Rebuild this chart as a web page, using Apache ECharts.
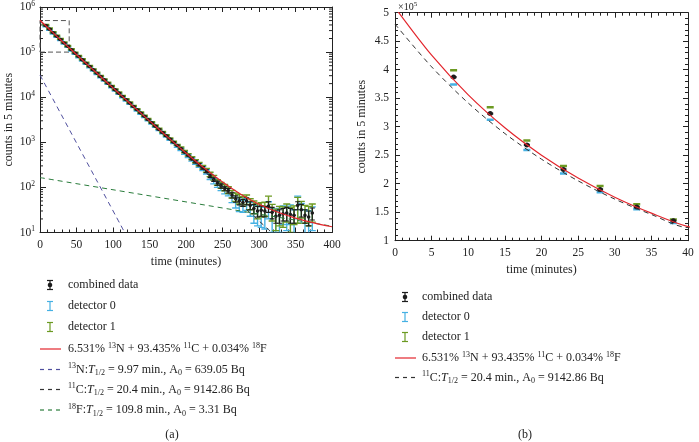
<!DOCTYPE html>
<html>
<head>
<meta charset="utf-8">
<script src="https://cdn.jsdelivr.net/npm/echarts@6/dist/echarts.min.js"></script>
<style>
  html, body { margin: 0; padding: 0; background: #fff; }
  #chart { width: 699px; height: 442px; }
</style>
</head>
<body>
<div id="chart"></div>
<script>
// ---------- data ----------
const times = [8,13,18,23,28,33,38,43,48,53,58,63,68,73,78,83,88,93,98,103,
  108,113,118,123,128,133,138,143,148,153,158,163,168,173,178,183,188,193,198,203,
  208,213,218,223,228,233,238,243,248,253,258,263,268,273,278,283,288,293,298,303,
  308,313,318,323,328,333,338,343,348,353,358,363,368,373];

const combined = [387000,323000,268000,225000,190000,159000,135000,112500,94700,79800,
  67200,56700,47800,40300,34000,28600,24200,20400,17200,14500,
  12300,10400,8750,7390,6240,5280,4460,3770,3190,2700,
  2280,1930,1640,1390,1180,1000,850,725,600,510,
  430,370,318,272,230,180,150,125,108,95,
  85,68,56,50,46,50,40,34,30,31,
  30,38,28,23,24,26,27,25,24,40,
  32,24,22,27];

const det0 = [374000,312000,259000,218000,185000,155000,131000,108500,91400,77000,
  64800,54700,46100,38900,32800,27600,23400,19700,16600,14000,
  11900,10000,8440,7130,6020,5090,4300,3640,3080,2610,
  2200,1860,1580,1340,1140,965,820,700,578,492,
  415,357,307,262,222,172,140,118,102,88,
  80,60,48,42,40,44,35,28,26,25,
  24,34,22,20,22,27,24,28,20,42,
  30,20,18,24];

const det1 = [399000,334000,276000,231000,196000,164000,137000,116000,97500,82200,
  69200,58400,49200,41500,35000,29500,24900,21000,17700,14900,
  12700,10700,9010,7610,6430,5440,4590,3880,3290,2780,
  2350,1990,1690,1430,1220,1030,876,747,622,528,
  445,383,330,282,240,195,165,130,112,100,
  88,72,62,56,50,55,44,38,32,34,
  35,50,30,22,26,25,30,23,27,38,
  35,28,26,30];

const errDet = [900,800,700,650,600,550,500,460,430,400,
  370,340,310,290,270,250,230,210,190,175,
  160,150,135,125,115,105,95,88,80,74,
  68,62,58,54,50,46,43,40,37,34,
  32,30,28,26,24,22,20,18,17,16,
  15,14,13,13,12,13,12,12,12,12,
  12,14,12,11,12,12,13,13,12,22,
  14,12,12,13];

const errComb = [640,560,500,460,420,390,350,320,300,280,
  260,240,220,205,190,175,160,150,135,125,
  115,105,95,88,80,74,67,62,57,52,
  48,44,41,38,35,33,30,28,26,24,
  22,21,20,18,17,15,14,13,12,11,
  10,10,9,9,8,9,8,8,8,8,
  8,10,8,7,8,8,9,9,8,8,
  10,8,8,8];

// fitted curves
const fitT   = [0,5,10,15,20,25,30,35,40,60,80,100,125,150,175,200,225,250,275,300,325,350,375,400];
const fitSum = [509000,425400,355800,298100,250100,209900,176300,148300,124650,62730,31800,16130,
  6906,2987,1305,581,268,131,70.4,42.2,28.4,20.9,16.4,13.4];
const c11T   = [0,5,10,15,20,25,30,35,40,316];
const c11Val = [480000,405000,341500,288000,243000,205000,173000,146000,123000,10.5];
const n13T   = [0,116];
const n13Val = [31000,10];
const f18T   = [0,400];
const f18Val = [165,13.8];
const zoomBox = [[0,100000],[40,500000]];

// ---------- style ----------
const SERIF = "'Liberation Serif', 'DejaVu Serif', serif";
const INK = '#222';
const RED = '#e3262d', N13C = '#4f4f9e', C11C = '#333', F18C = '#2b7d3d';
const D0C = '#45b1e3', D1C = '#6c9a22', COMBC = '#1c1c1c';

const pairs = (xs, ys) => xs.map((x, i) => [x, ys[i]]);
const withErr = (ys, es) => times.map((t, i) => [t, ys[i], es[i]]);

// error bar: stem + caps; when the bar is shorter than ~2px it collapses to a single dash
function errBar(color, cap, lw, dot) {
  return function (params, api) {
    const x = api.value(0), y = api.value(1), e = api.value(2);
    const top = api.coord([x, y + e]);
    const bot = api.coord([x, Math.max(y - e, 0.5)]);
    const mid = api.coord([x, y]);
    const st = { stroke: color, lineWidth: lw };
    let kids;
    if (bot[1] - top[1] < 2) {
      kids = [{ type: 'rect', shape: { x: mid[0] - cap, y: mid[1] - lw / 2 - 0.5, width: cap * 2, height: lw + 1 },
        style: { fill: color } }];
    } else {
      kids = [
        { type: 'line', shape: { x1: top[0], y1: top[1], x2: bot[0], y2: bot[1] }, style: st },
        { type: 'line', shape: { x1: top[0] - cap, y1: top[1], x2: top[0] + cap, y2: top[1] }, style: st },
        { type: 'line', shape: { x1: bot[0] - cap, y1: bot[1], x2: bot[0] + cap, y2: bot[1] }, style: st },
      ];
    }
    if (dot) kids.push({ type: 'circle', shape: { cx: mid[0], cy: mid[1], r: dot }, style: { fill: color } });
    const cs = params.coordSys;
    return { type: 'group', children: kids,
      clipPath: { type: 'rect', shape: { x: cs.x, y: cs.y, width: cs.width, height: cs.height } } };
  };
}

function errSeries(name, data, color, cap, lw, dot, gi) {
  return { name, type: 'custom', xAxisIndex: gi * 2, yAxisIndex: gi * 2, clip: true, silent: true,
    renderItem: errBar(color, cap, lw, dot), data, z: 3 };
}

function lineSeries(name, data, color, dashed, gi, width) {
  return { name, type: 'line', xAxisIndex: gi * 2, yAxisIndex: gi * 2, data, showSymbol: false,
    smooth: 0.3, clip: true, silent: true, z: 4,
    lineStyle: { color, width: width || 1, type: dashed ? [5, 4] : 'solid' } };
}

// axis helpers
const tickStyle = { show: true, inside: true, length: 5, lineStyle: { color: INK } };
const minor = { show: true, splitNumber: 5, length: 3, lineStyle: { color: INK } };
const lineStyle = { show: true, onZero: false, lineStyle: { color: INK, width: 1 } };
const lab = { fontFamily: SERIF, fontSize: 11.5, color: INK };
const supRich = {
  b: { fontFamily: SERIF, fontSize: 11.5, color: INK, lineHeight: 14 },
  s: { fontFamily: SERIF, fontSize: 7.5, color: INK, verticalAlign: 'top', lineHeight: 8 },
};

function xAx(gi, min, max, interval, top, name, gap) {
  return { gridIndex: gi, type: 'value', min, max, interval, position: top ? 'top' : 'bottom',
    axisLine: lineStyle, axisTick: tickStyle, minorTick: minor, splitLine: { show: false },
    axisLabel: { show: !top, margin: 6, ...lab },
    name: top ? '' : name, nameLocation: 'middle', nameGap: gap,
    nameTextStyle: { fontFamily: SERIF, fontSize: 12, color: INK } };
}

// minor ticks of the log axis (2..9 x 10^k)
const logMinor = [];
for (let k = 1; k <= 5; k++) for (let m = 2; m <= 9; m++) logMinor.push([0, m * Math.pow(10, k)]);

const option = {
  animation: false,
  backgroundColor: '#fff',
  grid: [
    { left: 40, top: 5.5, width: 292, height: 227 },
    { left: 395, top: 12.7, width: 293, height: 228 },
  ],
  xAxis: [
    xAx(0, 0, 400, 50, false, 'time (minutes)', 22),
    xAx(0, 0, 400, 50, true),
    xAx(1, 0, 40, 5, false, 'time (minutes)', 21),
    xAx(1, 0, 40, 5, true),
  ],
  yAxis: [
    { gridIndex: 0, type: 'log', logBase: 10, min: 10, max: 1000000, splitNumber: 5, position: 'left',
      axisLine: lineStyle, axisTick: { ...tickStyle, length: 6 }, splitLine: { show: false },
      axisLabel: { margin: 5, formatter: v => '{b|10}{s|' + Math.round(Math.log10(v)) + '}', rich: supRich },
      name: 'counts in 5 minutes', nameLocation: 'middle', nameGap: 25, nameRotate: 90,
      nameTextStyle: { fontFamily: SERIF, fontSize: 12, color: INK } },
    { gridIndex: 0, type: 'log', logBase: 10, min: 10, max: 1000000, splitNumber: 5, position: 'right',
      axisLine: lineStyle, axisTick: { ...tickStyle, length: 6 }, splitLine: { show: false },
      axisLabel: { show: false } },
    { gridIndex: 1, type: 'value', min: 100000, max: 500000, interval: 50000, position: 'left',
      axisLine: lineStyle, axisTick: tickStyle, minorTick: minor, splitLine: { show: false },
      axisLabel: { margin: 6, formatter: v => String(v / 100000), ...lab },
      name: 'counts in 5 minutes', nameLocation: 'middle', nameGap: 27, nameRotate: 90,
      nameTextStyle: { fontFamily: SERIF, fontSize: 12, color: INK } },
    { gridIndex: 1, type: 'value', min: 100000, max: 500000, interval: 50000, position: 'right',
      axisLine: lineStyle, axisTick: tickStyle, minorTick: minor, splitLine: { show: false },
      axisLabel: { show: false } },
  ],
  series: [
    // (a) log plot
    { type: 'custom', xAxisIndex: 0, yAxisIndex: 0, silent: true, data: logMinor,
      renderItem: (params, api) => {
        const v = api.value(1), l = api.coord([0, v]), r = api.coord([400, v]);
        const st = { stroke: INK, lineWidth: 1 };
        return { type: 'group', children: [
          { type: 'line', shape: { x1: l[0], y1: l[1], x2: l[0] + 3, y2: l[1] }, style: st },
          { type: 'line', shape: { x1: r[0], y1: r[1], x2: r[0] - 3, y2: r[1] }, style: st },
        ] };
      } },
    errSeries('detector 0', withErr(det0, errDet), D0C, 3.5, 1.4, 0, 0),
    errSeries('detector 1', withErr(det1, errDet), D1C, 3.5, 1.4, 0, 0),
    errSeries('combined data', withErr(combined, errComb), COMBC, 2.5, 1.1, 1.8, 0),
    lineSeries('13N', pairs(n13T, n13Val), N13C, true, 0),
    lineSeries('11C', pairs(c11T, c11Val), C11C, true, 0),
    lineSeries('18F', pairs(f18T, f18Val), F18C, true, 0),
    { ...lineSeries('fit', pairs(fitT, fitSum), RED, false, 0, 1.2),
      markArea: { silent: true, itemStyle: { color: 'rgba(0,0,0,0)', borderColor: '#555', borderWidth: 1, borderType: [5, 3] },
        data: [[{ coord: zoomBox[0] }, { coord: zoomBox[1] }]] } },
    // (b) zoomed linear plot
    lineSeries('fit', pairs(fitT, fitSum), RED, false, 1, 1.2),
    lineSeries('11C', pairs(c11T, c11Val), C11C, true, 1),
    errSeries('detector 0', withErr(det0, errDet), D0C, 3.5, 1.5, 0, 1),
    errSeries('detector 1', withErr(det1, errDet), D1C, 3.5, 1.5, 0, 1),
    errSeries('combined data', withErr(combined, errComb), COMBC, 3, 1.2, 2.5, 1),
  ],
};

// ---------- legends, captions ----------
const txtRich = {
  sup: { fontFamily: SERIF, fontSize: 8, fill: INK, verticalAlign: 'top', lineHeight: 9 },
  sub: { fontFamily: SERIF, fontSize: 8, fill: INK, verticalAlign: 'bottom', lineHeight: 9 },
  it: { fontFamily: SERIF, fontSize: 12, fill: INK, fontStyle: 'italic', lineHeight: 15 },
  n: { fontFamily: SERIF, fontSize: 12, fill: INK, lineHeight: 15 },
};
const fitLabel = '{n|6.531% }{sup|13}{n|N + 93.435% }{sup|11}{n|C + 0.034% }{sup|18}{n|F}';
const halfLabel = (iso, el, t, a) =>
  `{sup|${iso}}{n|${el}:}{it|T}{sub|1/2}{n| = ${t} min., A}{sub|0}{n| = ${a} Bq}`;

const legendA = [
  ['comb', '{n|combined data}'], ['d0', '{n|detector 0}'], ['d1', '{n|detector 1}'],
  ['red', fitLabel],
  ['n13', halfLabel(13, 'N', '9.97', '639.05')],
  ['c11', halfLabel(11, 'C', '20.4', '9142.86')],
  ['f18', halfLabel(18, 'F', '109.8', '3.31')],
];
const legendB = [
  ['comb', '{n|combined data}'], ['d0', '{n|detector 0}'], ['d1', '{n|detector 1}'],
  ['red', fitLabel],
  ['c11', halfLabel(11, 'C', '20.4', '9142.86')],
];
const rowsA = [285, 306, 327, 349, 369.5, 389.5, 410];
const rowsB = [297, 317, 337, 358, 377.5];

function icon(kind, x0, y) {
  const cx = x0 + 10;
  const ib = (c, dot) => {
    const st = { stroke: c, lineWidth: 1.2 };
    const k = [
      { type: 'line', shape: { x1: cx, y1: y - 4.5, x2: cx, y2: y + 4.5 }, style: st },
      { type: 'line', shape: { x1: cx - 3, y1: y - 4.5, x2: cx + 3, y2: y - 4.5 }, style: st },
      { type: 'line', shape: { x1: cx - 3, y1: y + 4.5, x2: cx + 3, y2: y + 4.5 }, style: st },
    ];
    if (dot) k.push({ type: 'circle', shape: { cx, cy: y, r: 2.3 }, style: { fill: c } });
    return k;
  };
  const ln = (c, dashed) => [{ type: 'line', shape: { x1: x0, y1: y, x2: x0 + 21, y2: y },
    style: { stroke: c, lineWidth: 1.2, lineDash: dashed ? [4, 4] : null } }];
  if (kind === 'comb') return ib(COMBC, true);
  if (kind === 'd0') return ib(D0C);
  if (kind === 'd1') return ib(D1C);
  if (kind === 'red') return ln(RED);
  if (kind === 'n13') return ln(N13C, true);
  if (kind === 'c11') return ln(C11C, true);
  return ln(F18C, true);
}

const graphics = [];
function addLegend(items, rows, x0, tx) {
  items.forEach(([kind, text], i) => {
    graphics.push(...icon(kind, x0, rows[i]));
    graphics.push({ type: 'text', style: { x: tx, y: rows[i], text, rich: txtRich,
      verticalAlign: 'middle', align: 'left', fill: INK } });
  });
}
addLegend(legendA, rowsA, 40, 68);
addLegend(legendB, rowsB, 395, 422);

graphics.push(
  { type: 'text', style: { x: 398, y: 7, text: '{n|\u00d710}{sup|5}', verticalAlign: 'middle',
    rich: { n: { fontFamily: SERIF, fontSize: 10, fill: INK, lineHeight: 12 },
            sup: { fontFamily: SERIF, fontSize: 7, fill: INK, verticalAlign: 'top', lineHeight: 7 } } } },
  { type: 'text', style: { x: 172, y: 435, text: '(a)', font: '12px ' + SERIF, fill: INK,
    align: 'center', verticalAlign: 'middle' } },
  { type: 'text', style: { x: 525, y: 435, text: '(b)', font: '12px ' + SERIF, fill: INK,
    align: 'center', verticalAlign: 'middle' } },
);
option.graphic = graphics;

const chart = echarts.init(document.getElementById('chart'), null, { renderer: 'canvas' });
chart.setOption(option);
</script>
</body>
</html>
